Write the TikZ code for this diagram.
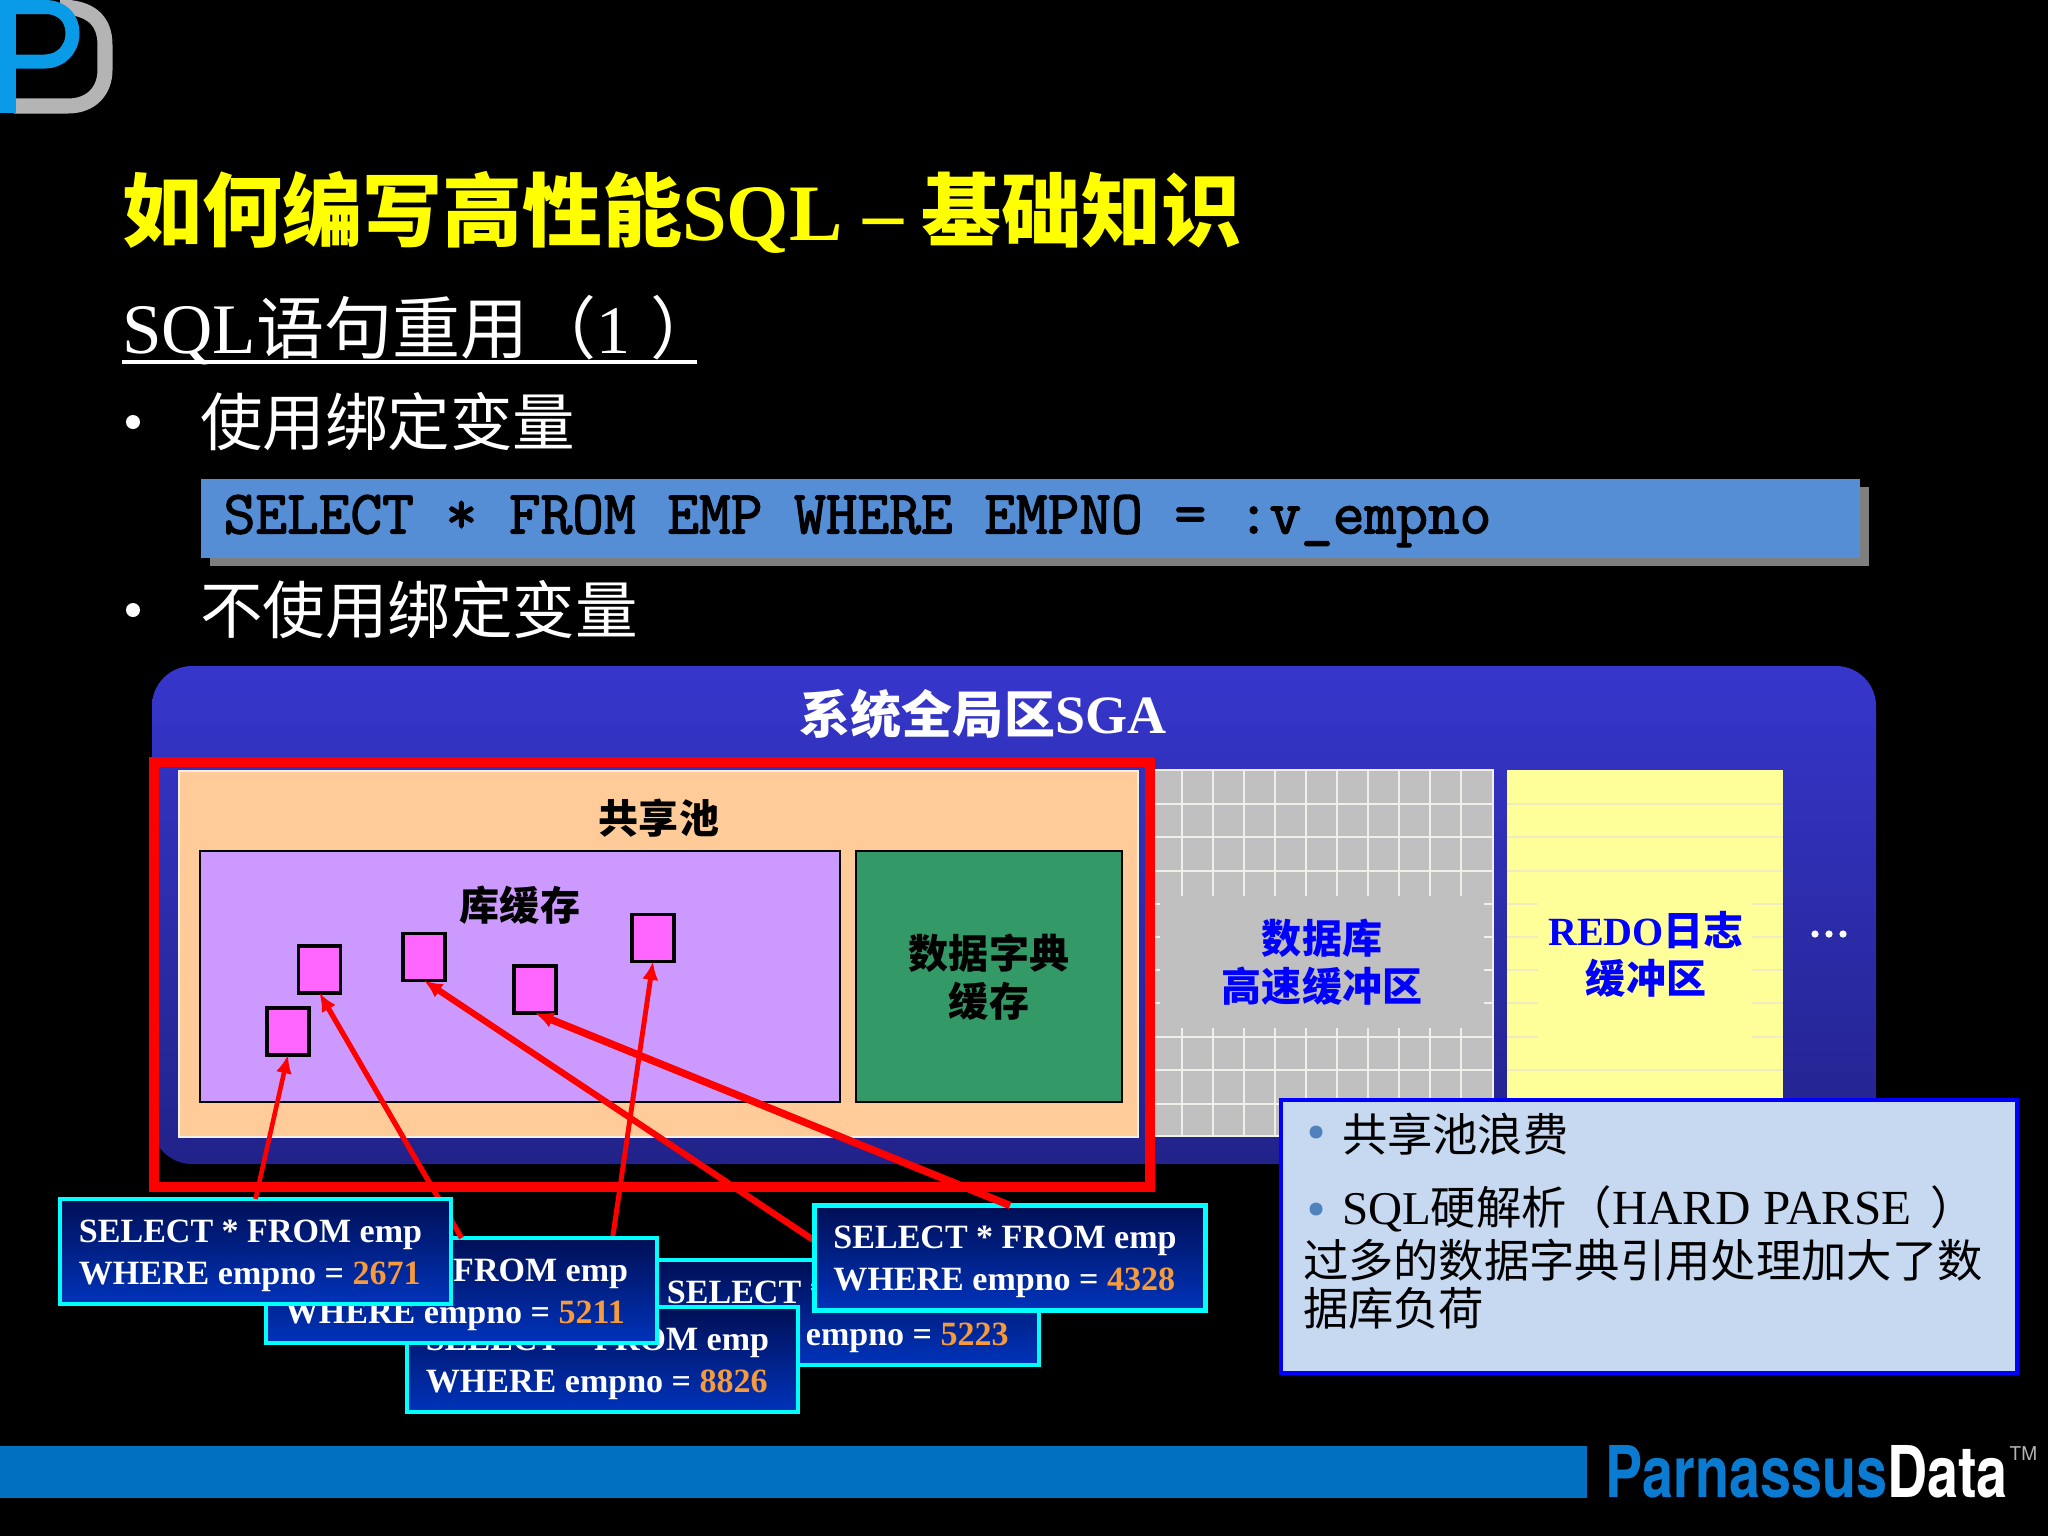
\documentclass[tikz,border=0pt]{standalone}
\usepackage{fontspec}
\usepackage{graphicx}
\usetikzlibrary{arrows.meta}
\setmainfont{Liberation Serif}
\newfontfamily\cjk{Noto Sans CJK SC}
\newfontfamily\heros{TeX Gyre Heros}
\newfontfamily\codef[FakeBold=2.2]{Latin Modern Mono}
\newcommand{\pxf}[2][1.2]{\fontsize{\fpeval{#2*0.28453}pt}{\fpeval{#2*0.28453*#1}pt}\selectfont}
\definecolor{bgblack}{HTML}{000000}
\definecolor{titley}{HTML}{FFFF00}
\definecolor{codefill}{HTML}{558ED5}
\definecolor{codeshadow}{HTML}{7F7F7F}
\definecolor{sgaouter}{HTML}{3636CC}
\definecolor{sgainner}{HTML}{22228A}
\definecolor{orangebox}{HTML}{FFCC99}
\definecolor{purplebox}{HTML}{CC99FF}
\definecolor{greenbox}{HTML}{339966}
\definecolor{pinkbox}{HTML}{FF66FF}
\definecolor{graybox}{HTML}{C0C0C0}
\definecolor{yellowbox}{HTML}{FFFF99}
\definecolor{notefill}{HTML}{C6D9F0}
\definecolor{bullet}{HTML}{4F81BD}
\definecolor{footbar}{HTML}{0070C0}
\definecolor{sqltop}{HTML}{000F55}
\definecolor{sqlbot}{HTML}{0033BB}
\definecolor{numor}{HTML}{F79A3C}
\definecolor{logoblue}{HTML}{0A9BE8}
\definecolor{logogray}{HTML}{B4B4B4}
\definecolor{brandblue}{HTML}{0A7BD0}
\definecolor{gridline}{HTML}{F0F0E8}
\definecolor{ruleline}{HTML}{EDEDC0}
\definecolor{cyanline}{HTML}{00FFFF}
\definecolor{redline}{HTML}{FF0000}
\definecolor{blueline}{HTML}{0000FF}
\tikzset{
  sz/.style 2 args={minimum width=#1*0.01cm, minimum height=#2*0.01cm, inner sep=0pt, outer sep=0pt},
  lefttext/.style={anchor=west, inner sep=0pt, outer sep=0pt, text=white},
  pinkcell/.style={sz={42}{47}, fill=pinkbox, draw=black, line width=0.9pt},
  sqlbox/.style={sz={391}{105}, draw=cyanline, line width=1.2pt, top color=sqltop, bottom color=sqlbot},
  sqltext/.style={text=white, align=left, inner sep=0pt, font=\bfseries\pxf[1.235]{34}},
  refline/.style={draw=redline, -{Latex[length=5.2pt,width=4.6pt]}, line width=#1},
  bluelabel/.style={text=blueline, font=\cjk\bfseries\pxf{40}, inner sep=0pt, align=center},
  blacklabel/.style={text=black, font=\cjk\bfseries\pxf{40}, inner sep=0pt, align=center},
  notetext/.style={anchor=west, inner sep=0pt, outer sep=0pt, text=black, font=\cjk\pxf{45.3}},
  gl/.style={draw=gridline, line width=0.55pt},
  rl/.style={draw=ruleline, line width=0.55pt}
}
\newcommand{\sqlnode}[4]{%
  \node[sqlbox] (s#1) at (#2,#3) {};
  \node[sqltext] (t#1) at ([shift={(-5,4)}]s#1.center) {SELECT * FROM emp\\WHERE empno = {\color{numor}#4}};
}
\begin{document}
\begin{tikzpicture}[x=0.01cm,y=-0.01cm]
\useasboundingbox (0,0) rectangle (2048,1536);
\fill[bgblack] (0,0) rectangle (2048,1536);
% logo
\begin{scope}
\clip (0,0) rectangle (2048,1536);
\draw[logogray, line width=4.27pt] (14,106) -- (68,106) .. controls (92,106) and (105,90) .. (105,70) -- (105,45) .. controls (105,20) and (90,7) .. (60,7);
\draw[logoblue, line width=3.98pt] (10,7) -- (45,7) .. controls (62,7) and (72.5,18) .. (72.5,33) .. controls (72.5,50) and (60,61.5) .. (45,61.5) -- (10,61.5);
\fill[logoblue] (0,0) rectangle (16,113);
\end{scope}
% heading
\node[lefttext, text=titley, font=\bfseries\pxf{80}] (title) at (122,212) {{\cjk 如何编写高性能}SQL\hspace{6pt}–\hspace{5pt}{\cjk 基础知识}};
\node[lefttext, font=\pxf{68}] (sub) at (122,330) {{\pxf{71}SQL}{\cjk 语句重用（}1\hspace{5.6pt}{\cjk ）}};
\draw[white, line width=0.9pt] (sub.west |- 0,362) coordinate (ul1) -- (697,362) coordinate (ul2);
\fill[white] (133,422) circle (7) coordinate (b1);
\node[lefttext, font=\cjk\pxf{62.5}] (use) at (200,422) {使用绑定变量};
\fill[codeshadow] (210,487) rectangle (1869,566);
\node[sz={1659}{79}, fill=codefill, anchor=north west] (code) at (201,479) {};
\node[anchor=west, inner sep=0pt, text=black, font=\codef\pxf{61.5}] (codetext) at (223,521) {SELECT * FROM EMP WHERE EMPNO = :v\_empno};
\fill[white] (133,610) circle (7) coordinate (b2);
\node[lefttext, font=\cjk\pxf{62.5}] (nouse) at (200,610) {不使用绑定变量};
% SGA
\shade[top color=sgaouter, bottom color=sgainner, rounded corners=40*0.01cm] (152,666) rectangle (1876,1164);
\node[text=white, font=\bfseries, inner sep=0pt] (sgat) at (983,714) {{\cjk\pxf{51}系统全局区}{\pxf{54}SGA}};
% buffer cache
\fill[graybox] (1150,770) rectangle (1493,1136);
\foreach \x in {1182,1213,...,1461} {
  \draw[gl] (\x,770) -- (\x,896);
  \draw[gl] (\x,1028) -- (\x,1136);
}
\foreach \y in {804,837,871,1037,1070,1104} \draw[gl] (1150,\y) -- (1493,\y);
\foreach \y in {904,937,970,1003} {
  \draw[gl] (1150,\y) -- (1160,\y);
  \draw[gl] (1484,\y) -- (1493,\y);
}
\draw[gl] (1150,770) rectangle (1493,1136);
\node[bluelabel] (bufl) at (1322,962) {数据库\\高速缓冲区};
% redo
\fill[yellowbox] (1507,770) rectangle (1783,1136);
\foreach \y in {804,837,871,1070,1104} \draw[rl] (1507,\y) -- (1783,\y);
\foreach \y in {904,937,970,1003,1037} {
  \draw[rl] (1507,\y) -- (1538,\y);
  \draw[rl] (1752,\y) -- (1783,\y);
}
\node[bluelabel] (redol) at (1646,954) {{\rmfamily\bfseries REDO}日志\\缓冲区};
\fill[white] (1815,934) circle (3.6) coordinate (d1) (1829,934) circle (3.6) coordinate (d2) (1843,934) circle (3.6) coordinate (d3);
% shared pool
\node[sz={959}{366}, fill=orangebox, draw=gridline, line width=0.7pt, anchor=north west] (pool) at (179,771) {};
\node[blacklabel] (poolt) at (659,818) {共享池};
\node[sz={640}{251}, fill=purplebox, draw=black, line width=0.7pt, anchor=north west] (lib) at (200,851) {};
\node[blacklabel] (libt) at (520,905) {库缓存};
\node[sz={266}{251}, fill=greenbox, draw=black, line width=0.7pt, anchor=north west] (dict) at (856,851) {};
\node[blacklabel] (dictt) at (989,977) {数据字典\\缓存};
\node[pinkcell] (ca) at (319.5,969.5) {};
\node[pinkcell] (cb) at (424,957) {};
\node[pinkcell] (cc) at (535,989.5) {};
\node[pinkcell] (cd) at (653,938) {};
\node[pinkcell] (ce) at (288,1031.5) {};
\draw[redline, line width=2.9pt] (154,762) rectangle (1150,1187);
% SQL boxes, bottom to top
\sqlnode{5223}{843.5}{1312.5}{5223}
\sqlnode{8826}{602.5}{1359.5}{8826}
\draw[refline=1.8pt] (s5223.north) -- (cb.south);
\draw[refline=1.4pt] (s8826.north) -- (cd.south);
\sqlnode{5211}{461.5}{1290.5}{5211}
\draw[refline=1.5pt] (s5211.north) -- (ca.south);
\sqlnode{2671}{255.5}{1251.5}{2671}
\draw[refline=1.3pt] (s2671.north) -- (ce.south);
\sqlnode{4328}{1010}{1258}{4328}
\draw[refline=2.1pt] (s4328.north) -- (cc.south);
% note
\node[sz={736}{273}, fill=notefill, draw=blueline, line width=1.2pt, anchor=north west] (note) at (1281,1100) {};
\fill[bullet] (1316,1132) circle (6.5) coordinate (nb1);
\node[notetext] (n1) at (1342,1134) {共享池浪费};
\fill[bullet] (1316,1209) circle (6.5) coordinate (nb2);
\node[notetext] (n2) at (1342,1209) {{\rmfamily\pxf{47}SQL}硬解析（{\rmfamily\pxf{49}HARD PARSE\ \hspace{2pt}}）};
\node[notetext] (n3) at (1303,1260) {过多的数据字典引用处理加大了数};
\node[notetext] (n4) at (1303,1308) {据库负荷};
% footer
\node[sz={1587}{52}, fill=footbar, anchor=north west] (foot) at (0,1446) {};
\node[anchor=north west, inner sep=0pt] (brand) at (1605,1445) {\resizebox{4.02cm}{0.52cm}{\heros\bfseries{\color{brandblue}Parnassus}{\color{white}Data}}};
\node[anchor=west, inner sep=0pt, text=logogray, font=\heros\pxf{19}] (tm) at (2009,1454) {TM};
\end{tikzpicture}
\end{document}
